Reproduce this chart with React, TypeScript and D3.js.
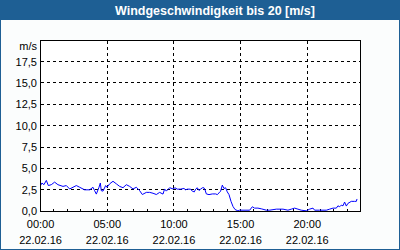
import React from 'react';
import * as d3 from 'd3';

const TITLE = 'Windgeschwindigkeit bis 20 [m/s]';
const UNIT = 'm/s';

// hours since 00:00 on 22.02.16
const hours = [
  0, 0.1, 0.25, 0.43, 0.58, 0.8, 1.05, 1.3, 1.68, 1.93,
  2.18, 2.43, 2.68, 2.93, 3.3, 3.68, 3.93, 4.05, 4.18, 4.38,
  4.48, 4.55, 4.68, 4.88, 4.98, 5.18, 5.43, 5.68, 5.93, 6.18,
  6.43, 6.68, 6.93, 7.18, 7.43, 7.63, 7.93, 8.18, 8.43, 8.68,
  8.93, 9.18, 9.3, 9.43, 9.68, 9.93, 10.08, 10.25, 10.5, 10.75,
  10.88, 11.0, 11.25, 11.38, 11.53, 11.63, 11.75, 11.88, 12.0, 12.13,
  12.25, 12.33, 12.43, 12.63, 12.88, 13.13, 13.25, 13.38, 13.5, 13.63,
  13.75, 13.88, 14.0, 14.13, 14.28, 14.43, 14.58, 14.8, 14.93, 15.18,
  15.68, 15.88, 16.05, 16.3, 16.55, 16.93, 17.18, 17.68, 18.18, 18.55,
  18.8, 19.05, 19.3, 19.55, 19.93, 20.18, 20.43, 20.55, 20.93, 21.43,
  21.68, 21.93, 22.18, 22.3, 22.43, 22.55, 22.68, 22.8, 22.93, 23.05,
  23.3, 23.55, 23.68, 23.73,
];

// wind speed in m/s
const speeds = [
  3.0, 3.3, 3.1, 3.6, 3.0, 3.1, 3.4, 3.1, 2.9, 3.0,
  2.6, 2.8, 3.0, 2.8, 2.5, 2.5, 2.8, 2.4, 2.0, 2.8,
  3.3, 2.4, 2.35, 3.0, 2.8, 3.2, 3.5, 3.2, 2.9, 2.75,
  3.1, 2.9, 2.6, 2.8, 2.4, 1.95, 2.2, 2.2, 2.1, 1.95,
  2.2, 2.0, 2.6, 2.35, 2.75, 2.6, 2.74, 2.58, 2.58, 2.66,
  2.5, 2.58, 2.58, 2.34, 2.26, 2.58, 2.74, 2.42, 2.58, 2.74,
  2.74, 2.5, 2.02, 1.94, 2.02, 2.02, 1.94, 2.14, 2.34, 3.05,
  2.66, 2.74, 2.26, 1.94, 1.15, 0.55, 0.2, 0.04, 0.12, 0.12,
  0.12, 0.52, 0.36, 0.36, 0.28, 0.12, 0.12, 0.24, 0.24, 0.12,
  0.24, 0.36, 0.24, 0.12, 0.04, 0.24, 0.36, 0.12, 0.12, 0.12,
  0.24, 0.36, 0.36, 0.63, 0.52, 0.71, 0.63, 1.07, 0.6, 0.91,
  1.15, 1.15, 1.15, 1.43,
];

const yTicks = [0, 2.5, 5, 7.5, 10, 12.5, 15, 17.5];
const yGrid = [2.5, 5, 7.5, 10, 12.5, 15, 17.5];
const hourTicks = d3.range(1, 24);
const labelHours = [0, 5, 10, 15, 20];
const timeLabels = ['00:00', '05:00', '10:00', '15:00', '20:00'];
const dateLabels = ['22.02.16', '22.02.16', '22.02.16', '22.02.16', '22.02.16'];

const W = 400;
const H = 250;
const HEADER = '#1e5f94';
const FONT = '"Liberation Sans", Arial, sans-serif';

export default function App() {
  const x = d3.scaleLinear().domain([0, 24]).range([40.6, 360.6]);
  const y = d3.scaleLinear().domain([0, 20]).range([211.2, 40.2]);
  const c = (v: number) => Math.floor(v) + 0.5;

  const data = hours.map((h, i) => [h, speeds[i]] as [number, number]);
  const line = d3
    .line<[number, number]>()
    .x((d) => x(d[0]))
    .y((d) => y(d[1]));

  const left = c(x(0));
  const right = c(x(24));
  const top = c(y(20));
  const bottom = c(y(0));

  return (
    <svg
      width={W}
      height={H}
      style={{ position: 'absolute', left: 0, top: 0, display: 'block' }}
      fontFamily={FONT}
    >
      <rect x={0} y={0} width={W} height={H} fill="#fbfdfd" />
      <rect x={0} y={0} width={W} height={20} fill={HEADER} />
      <text x={215} y={14.5} fill="#ffffff" fontWeight="bold" fontSize={12.5} textAnchor="middle">
        {TITLE}
      </text>

      <rect
        x={left}
        y={top}
        width={right - left}
        height={bottom - top}
        fill="#ffffff"
        stroke="none"
      />

      {yGrid.map((v) => (
        <line
          key={'gy' + v}
          x1={left}
          x2={right}
          y1={c(y(v))}
          y2={c(y(v))}
          stroke="#000"
          strokeDasharray="3,3"
          shapeRendering="crispEdges"
        />
      ))}
      {labelHours.slice(1).map((h) => (
        <line
          key={'gx' + h}
          x1={c(x(h))}
          x2={c(x(h))}
          y1={top}
          y2={bottom}
          stroke="#000"
          strokeDasharray="3,3"
          shapeRendering="crispEdges"
        />
      ))}

      {hourTicks.map((h) => (
        <line
          key={'t' + h}
          x1={c(x(h))}
          x2={c(x(h))}
          y1={bottom - 3}
          y2={bottom}
          stroke="#000"
          shapeRendering="crispEdges"
        />
      ))}

      <path
        d={line(data) || ''}
        fill="none"
        stroke="#0000ff"
        strokeWidth={1}
        strokeLinejoin="round"
      />

      <rect
        x={left}
        y={top}
        width={right - left}
        height={bottom - top}
        fill="none"
        stroke="#000"
        shapeRendering="crispEdges"
      />

      {yTicks.map((v) => (
        <text
          key={'yl' + v}
          x={37}
          y={y(v) + 4}
          fontSize={11}
          textAnchor="end"
          fill="#000"
        >
          {d3.format('.1f')(v).replace('.', ',')}
        </text>
      ))}
      <text x={37} y={50} fontSize={11} textAnchor="end" fill="#000">
        {UNIT}
      </text>

      {labelHours.map((h, i) => (
        <g key={'xl' + h}>
          <text x={x(h)} y={228} fontSize={11} textAnchor="middle" fill="#000">
            {timeLabels[i]}
          </text>
          <text x={x(h)} y={244} fontSize={11} textAnchor="middle" fill="#000">
            {dateLabels[i]}
          </text>
        </g>
      ))}

      <rect x={0} y={0} width={W} height={H} fill="none" stroke={HEADER} strokeWidth={2} />
    </svg>
  );
}
